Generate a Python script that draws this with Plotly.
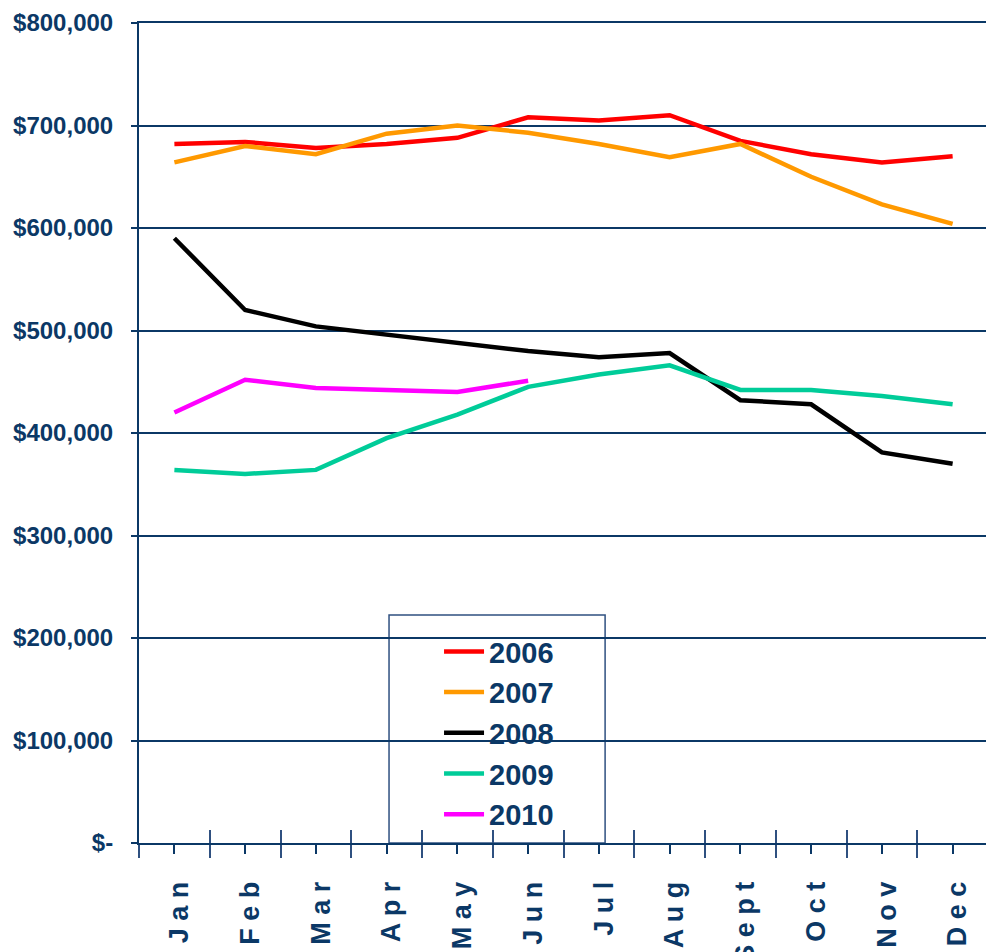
import plotly.graph_objects as go

months = ["J a n", "F e b", "M a r", "A p r", "M a y", "J u n",
          "J u l", "A u g", "S e p t", "O c t", "N o v", "D e c"]

y2006 = [682000, 684000, 678000, 682000, 688000, 708000, 705000, 710000, 685000, 672000, 664000, 670000]
y2007 = [664000, 680000, 672000, 692000, 700000, 693000, 682000, 669000, 682000, 650000, 623000, 604000]
y2008 = [590000, 520000, 504000, 496000, 488000, 480000, 474000, 478000, 432000, 428000, 381000, 370000]
y2009 = [364000, 360000, 364000, 395000, 418000, 445000, 457000, 466000, 442000, 442000, 436000, 428000]
y2010 = [420000, 452000, 444000, 442000, 440000, 451000]

series = [("2006", y2006, "#FF0000"), ("2007", y2007, "#FF9900"), ("2008", y2008, "#000000"),
          ("2009", y2009, "#00CC99"), ("2010", y2010, "#FF00FF")]

ytick_vals = [0, 100000, 200000, 300000, 400000, 500000, 600000, 700000, 800000]
ytick_text = ["$-", "$100,000", "$200,000", "$300,000", "$400,000", "$500,000",
              "$600,000", "$700,000", "$800,000"]

NAVY = "#0B3866"
FONT = "Liberation Sans Narrow, Arial Narrow, Liberation Sans, Arial"

xpos = list(range(len(months)))
bounds = [i - 0.5 for i in range(len(months) + 1)]

fig = go.Figure()
for name, vals, col in series:
    fig.add_trace(go.Scatter(x=xpos[:len(vals)], y=vals, mode="lines", name=name,
                             line=dict(color=col, width=4.5)))

fig.add_shape(type="rect", xref="paper", yref="paper", x0=0.2945, x1=0.549, y0=0, y1=0.278,
              fillcolor="white", line=dict(color="#2F5080", width=1.5), layer="between")

# page body has an 8px margin, so the figure is sized/offset to compensate
fig.update_layout(
    width=986, height=944,
    margin=dict(l=131, r=6, t=15, b=109, autoexpand=False),
    paper_bgcolor="white", plot_bgcolor="white",
    showlegend=True,
    legend=dict(x=0.3534, y=0.2646, xanchor="left", yanchor="top",
                bgcolor="rgba(0,0,0,0)", borderwidth=0,
                font=dict(family=FONT, size=29, color=NAVY, weight="bold"),
                itemwidth=40, tracegroupgap=0),
    xaxis=dict(range=[-0.5, 11.5], tickmode="array", tickvals=xpos, ticktext=months,
               tickangle=-90, ticks="outside", ticklen=9, tickwidth=1.5, tickcolor=NAVY,
               tickfont=dict(family=FONT, size=27, color=NAVY, weight="bold"),
               ticklabelstandoff=17, ticklabelshift=5, automargin=False,
               showline=True, linecolor=NAVY, linewidth=2, mirror=True,
               showgrid=False, zeroline=False,
               minor=dict(tickmode="array", tickvals=bounds, ticks="outside", ticklen=13,
                          tickwidth=1.5, tickcolor="#2F5080", showgrid=False)),
    xaxis2=dict(range=[-0.5, 11.5], overlaying="x", side="bottom", tickmode="array",
                tickvals=bounds, ticks="inside", ticklen=13, tickwidth=1.5, tickcolor="#2F5080",
                showticklabels=False, showgrid=False, zeroline=False, showline=False,
                automargin=False),
    yaxis=dict(range=[0, 800000], tickmode="array", tickvals=ytick_vals, ticktext=ytick_text,
               ticks="outside", ticklen=6, tickwidth=2, tickcolor=NAVY,
               tickfont=dict(family=FONT, size=24, color=NAVY, weight="bold"),
               ticklabelstandoff=13, automargin=False,
               showline=True, linecolor=NAVY, linewidth=2, mirror=True,
               showgrid=True, gridcolor=NAVY, gridwidth=2, zeroline=False),
)
# invisible trace to activate xaxis2
fig.add_trace(go.Scatter(x=[0], y=[None], xaxis="x2", showlegend=False, hoverinfo="skip"))

fig.write_html("out.html")
